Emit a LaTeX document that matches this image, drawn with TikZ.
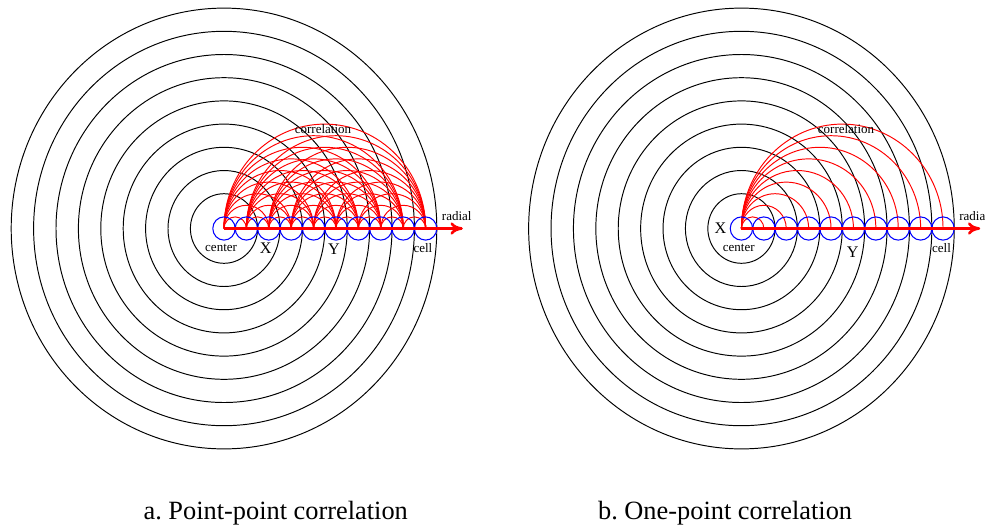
\documentclass[tikz,border=0pt]{standalone}
\usepackage{fontspec}
\setmainfont{Liberation Serif}
\usetikzlibrary{arrows.meta}
\usepackage{xcolor}
\definecolor{ringblack}{RGB}{0,0,0}
\definecolor{cellblue}{RGB}{0,0,255}
\definecolor{corrred}{RGB}{255,0,0}
\frenchspacing

\begin{document}
\begin{tikzpicture}[
  x=0.448cm, y=0.464cm,
  ring/.style={draw=ringblack, line width=0.55pt},
  cellcirc/.style={draw=cellblue, line width=0.6pt},
  corr/.style={draw=corrred, line width=0.55pt},
  radialaxis/.style={draw=corrred, line width=1.5pt, -{To[length=7pt,width=7pt]}},
  lbl/.style={font=\fontsize{7.4}{8}\selectfont, inner sep=0pt},
  ptlbl/.style={font=\fontsize{9.2}{10}\selectfont, inner sep=0pt},
  caption/.style={font=\fontsize{15}{17}\selectfont, anchor=base, inner sep=0pt}
]
\useasboundingbox (-10,-12.866) rectangle (33.973,9.849);

% a. every pair of cells
\begin{scope}
  \foreach \k in {1,...,9} \draw[ring] (0,0) circle[radius=\k+0.5];
  \foreach \k in {0,...,9} \coordinate (a\k) at (\k,0);
  \foreach \i in {0,...,8} {
    \pgfmathtruncatemacro\first{\i+1}
    \foreach \j in {\first,...,9}
      \draw[corr] (a\i) arc[start angle=180, end angle=0, radius=(\j-\i)/2];
  }
  \foreach \k in {0,...,9} \draw[cellcirc] (a\k) circle[radius=0.5];
  \coordinate (arad) at (10.66,0);
  \draw[radialaxis] (a0) -- (arad);
  \node[lbl] (acenter) at (-0.13,-0.84) {center};
  \node[ptlbl] (ax) at (1.86,-0.84) {X};
  \node[ptlbl] (ay) at (4.91,-0.88) {Y};
  \node[lbl] (acell) at (8.88,-0.84) {cell};
  \node[lbl] (aradial) at (10.39,0.54) {radial};
  \node[lbl] (acorr) at (4.42,4.3) {correlation};
\end{scope}

% b. one cell against the rest
\begin{scope}[shift={(23.1,0)}]
  \foreach \k in {1,...,9} \draw[ring] (0,0) circle[radius=\k+0.5];
  \foreach \k in {0,...,9} \coordinate (b\k) at (\k,0);
  \foreach \j in {1,...,9}
    \draw[corr] (b0) arc[start angle=180, end angle=0, radius=\j/2];
  \foreach \k in {0,...,9} \draw[cellcirc] (b\k) circle[radius=0.5];
  \coordinate (brad) at (10.66,0);
  \draw[radialaxis] (b0) -- (brad);
  \node[ptlbl] (bx) at (-0.94,0) {X};
  \node[lbl] (bcenter) at (-0.12,-0.85) {center};
  \node[ptlbl] (by) at (4.97,-1.04) {Y};
  \node[lbl] (bcell) at (8.93,-0.84) {cell};
  \node[lbl] (bradial) at (10.39,0.54) {radial};
  \node[lbl] (bcorr) at (4.67,4.27) {correlation};
\end{scope}

\node[caption] (capa) at (2.31,-12.53) {a. Point-point correlation};
\node[caption] (capb) at (22.37,-12.53) {b. One-point correlation};
\end{tikzpicture}
\end{document}
